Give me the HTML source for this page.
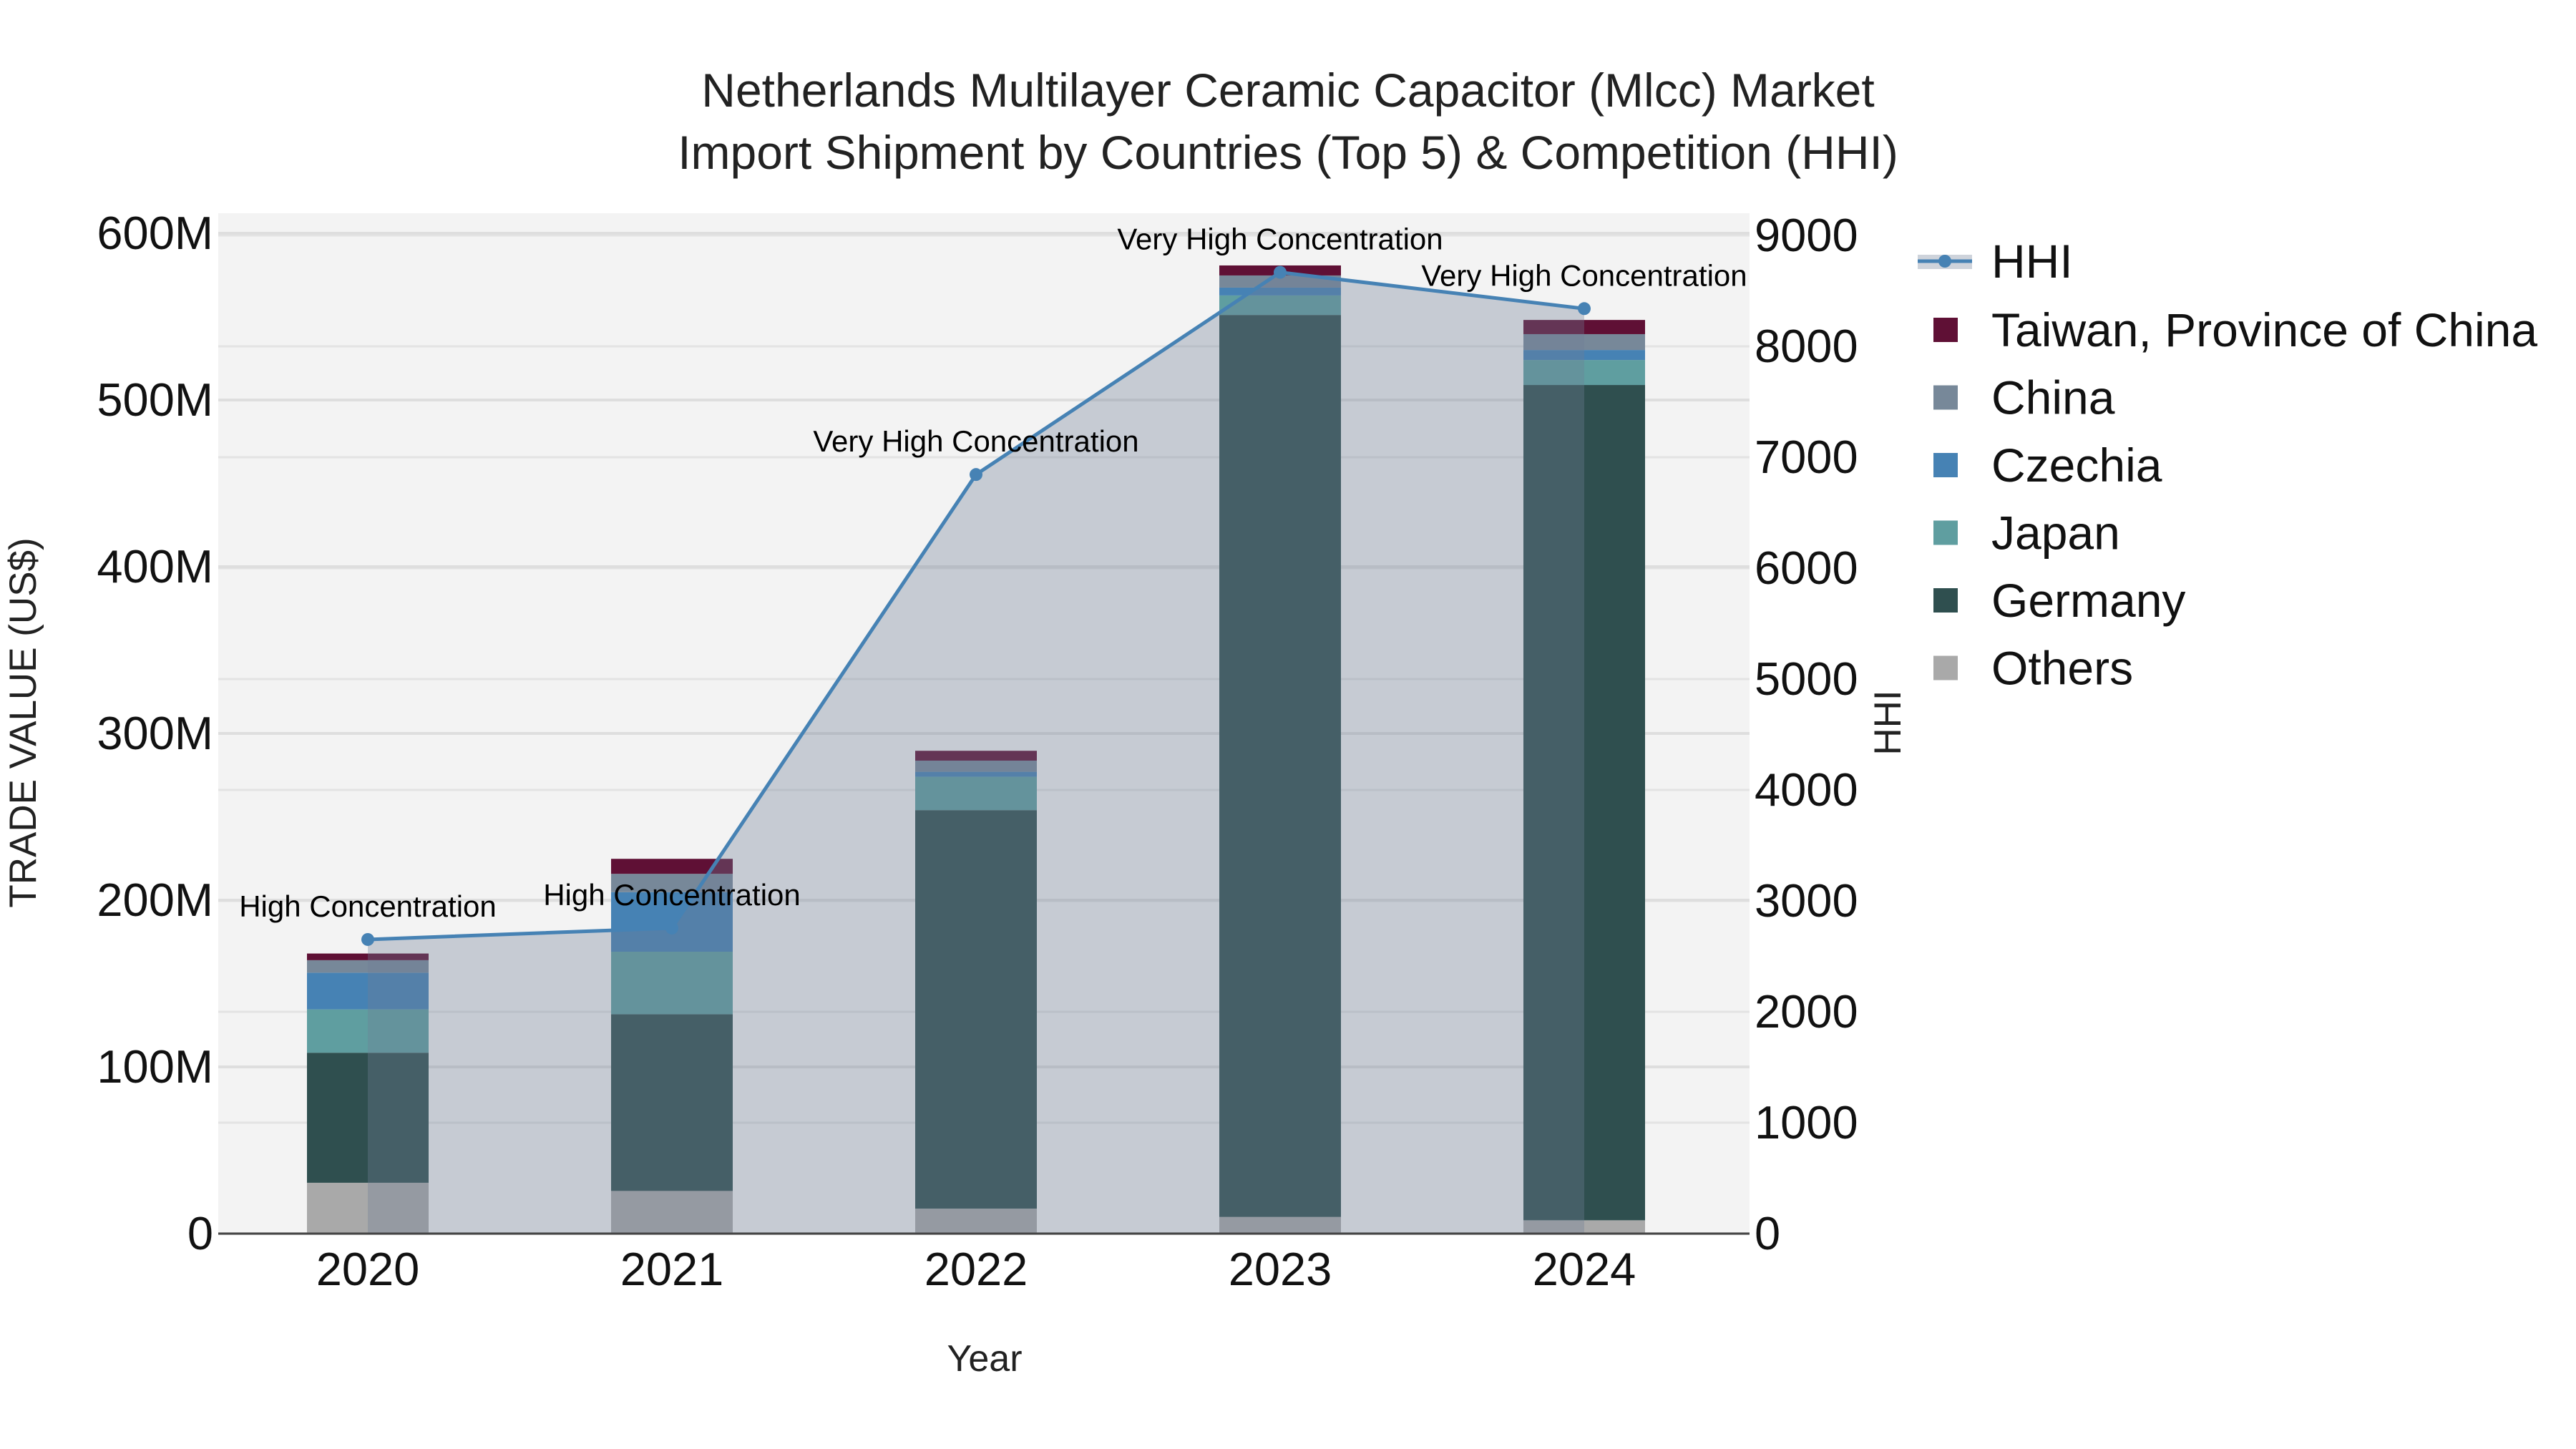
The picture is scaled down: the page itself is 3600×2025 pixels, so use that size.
<!DOCTYPE html>
<html><head><meta charset="utf-8"><style>
html,body{margin:0;padding:0;background:#fff;}
svg{display:block;font-family:"Liberation Sans",sans-serif;}
</style></head><body>
<svg id="chart" width="3600" height="2025" viewBox="0 0 3600 2025"></svg>
<script>
const years = ["2020","2021","2022","2023","2024"];
const others  = [30.5, 25.6, 15, 10, 8];
const germany = [78, 106, 239, 541, 501];
const japan   = [26, 37.5, 20, 11.7, 15];
const czechia = [22, 35.7, 3, 4.7, 6];
const china   = [7.5, 11, 6.7, 7.3, 9.5];
const taiwan  = [4, 9, 5.9, 6, 8.5];
const hhi = [2652, 2755, 6844, 8667, 8340];
const hhiLabels = ["High Concentration","High Concentration","Very High Concentration","Very High Concentration","Very High Concentration"];
const leftTicks = [0,100,200,300,400,500,600];
const leftTickLabels = ["0","100M","200M","300M","400M","500M","600M"];
const rightTicks = [0,1000,2000,3000,4000,5000,6000,7000,8000,9000];

const NS="http://www.w3.org/2000/svg";
const svg=document.getElementById('chart');
const X0=305,X1=2445,YT=298,YB=1724;
const band=425;
function xc(i){return 514+band*i;}
function yl(v){return YB-v*2.33;}          // v in millions
function yr(v){return YB-v*0.155;}
function mk(tag,attrs,parent){const e=document.createElementNS(NS,tag);for(const k in attrs)e.setAttribute(k,attrs[k]);(parent||svg).appendChild(e);return e;}

const bg=mk('rect',{x:X0,y:YT,width:X1-X0,height:YB-YT,fill:'#f3f3f3'});



rightTicks.forEach(t=>{const g=mk('line',{x1:X0,x2:X1,y1:yr(t),y2:yr(t),stroke:'#e3e3e3','stroke-width':3});

});
leftTicks.forEach(t=>{const g=mk('line',{x1:X0,x2:X1,y1:yl(t),y2:yl(t),stroke:'#dedede','stroke-width':4});

});

const series=[["others",others,"#a9a9a9"],["germany",germany,"#2f4f4f"],["japan",japan,"#5f9ea0"],["czechia",czechia,"#4682b4"],["china",china,"#778899"],["taiwan",taiwan,"#5f1035"]];
const bw=170;
years.forEach((y,i)=>{let base=0;series.forEach(s=>{const v=s[1][i];
const r=mk('rect',{x:xc(i)-bw/2,y:yl(base+v),width:bw,height:yl(base)-yl(base+v),fill:s[2]});


base+=v;});});

let pts=hhi.map((v,i)=>xc(i)+','+yr(v)).join(' ');
const area=mk('polygon',{points:xc(0)+','+YB+' '+pts+' '+xc(hhi.length-1)+','+YB,fill:'rgb(112,126,150)','fill-opacity':0.34});


const line=mk('polyline',{points:pts,fill:'none',stroke:'#4682b4','stroke-width':5});


hhi.forEach((v,i)=>{const c=mk('circle',{cx:xc(i),cy:yr(v),r:9,fill:'#4682b4'});


const t=mk('text',{x:xc(i),y:yr(v)-32,'font-size':42,'text-anchor':'middle',fill:'#000'});t.textContent=hhiLabels[i];

});

const ax=mk('line',{x1:X0,x2:X1,y1:YB,y2:YB,stroke:'#444','stroke-width':3});



leftTicks.forEach((t,i)=>{const e=mk('text',{x:298,y:yl(t)+22,'font-size':65,'text-anchor':'end',fill:'#111'});e.textContent=leftTickLabels[i];

});
rightTicks.forEach(t=>{const e=mk('text',{x:2452,y:yr(t)+22,'font-size':65,'text-anchor':'start',fill:'#111'});e.textContent=String(t);

});
years.forEach((y,i)=>{const e=mk('text',{x:xc(i),y:1796,'font-size':65,'text-anchor':'middle',fill:'#111'});e.textContent=y;

});

function txt(s,a,name){const e=mk('text',a);e.textContent=s;

return e;}
txt('Netherlands Multilayer Ceramic Capacitor (Mlcc) Market',{x:1800,y:149,'font-size':66,'text-anchor':'middle',fill:'#222'},'chart-title-line1');
txt('Import Shipment by Countries (Top 5) & Competition (HHI)',{x:1800,y:236,'font-size':66,'text-anchor':'middle',fill:'#222'},'chart-title-line2');
txt('Year',{x:1376,y:1916,'font-size':52,'text-anchor':'middle',fill:'#222'},'x-axis-title');
txt('TRADE VALUE (US$)',{x:0,y:0,'font-size':53,'text-anchor':'middle',fill:'#222',transform:'translate(50,1010) rotate(-90)'},'y-axis-title');
txt('HHI',{x:0,y:0,'font-size':53,'text-anchor':'middle',fill:'#222',transform:'translate(2656,1010) rotate(-90)'},'y2-axis-title');

const lg=mk('g',{});


const hr=mk('rect',{x:2680,y:356,width:76,height:20,fill:'rgb(112,126,150)','fill-opacity':0.34},lg);


const hl=mk('line',{x1:2680,x2:2756,y1:365,y2:365,stroke:'#4682b4','stroke-width':5},lg);


mk('circle',{cx:2718,cy:365,r:9,fill:'#4682b4'},lg);
const ht=mk('text',{x:2783,y:388,'font-size':66,fill:'#111'},lg);ht.textContent='HHI';


const legItems=[["Taiwan, Province of China","#5f1035"],["China","#778899"],["Czechia","#4682b4"],["Japan","#5f9ea0"],["Germany","#2f4f4f"],["Others","#a9a9a9"]];
legItems.forEach((it,i)=>{const cy=461+i*94.5;
const sq=mk('rect',{x:2702,y:cy-17,width:34,height:34,fill:it[1]},lg);


const t=mk('text',{x:2783,y:cy+23,'font-size':66,fill:'#111'},lg);t.textContent=it[0];

});
</script>
</body></html>
